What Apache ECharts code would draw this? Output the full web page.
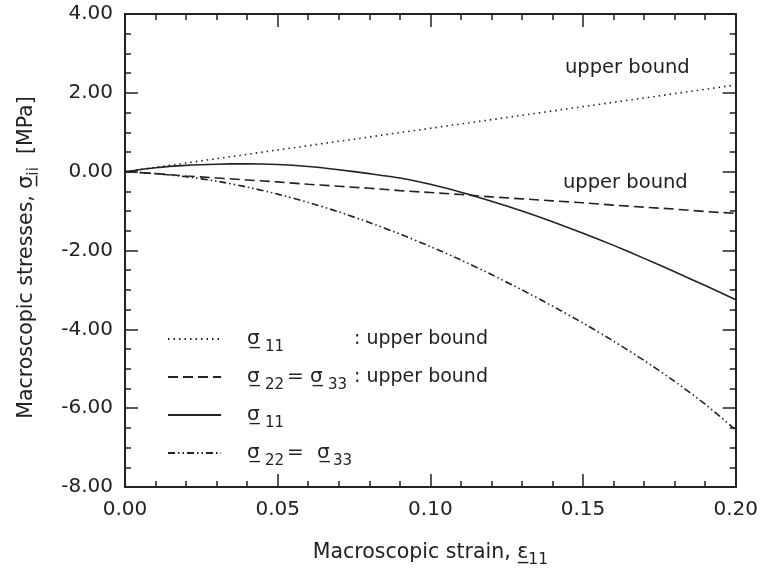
<!DOCTYPE html>
<html>
<head>
<meta charset="utf-8">
<script src="https://cdn.jsdelivr.net/npm/echarts@6/dist/echarts.min.js"></script>
<style>
  html, body { margin: 0; padding: 0; background: #fff; }
  #chart { width: 761px; height: 573px; }
</style>
</head>
<body>
<div id="chart"></div>
<script>
// Macroscopic strain ε11
var strain = [0.00, 0.01, 0.02, 0.03, 0.04, 0.05, 0.06, 0.07, 0.08, 0.09, 0.10,
              0.11, 0.12, 0.13, 0.14, 0.15, 0.16, 0.17, 0.18, 0.19, 0.20];
// σ11 : upper bound [MPa]
var sig11Upper = [0.00, 0.11, 0.22, 0.33, 0.44, 0.55, 0.66, 0.77, 0.88, 0.99, 1.10,
                  1.21, 1.32, 1.43, 1.54, 1.65, 1.76, 1.87, 1.98, 2.09, 2.20];
// σ22 = σ33 : upper bound [MPa]
var sig22Upper = [0.00, -0.05, -0.11, -0.16, -0.21, -0.26, -0.32, -0.37, -0.42, -0.48, -0.53,
                  -0.58, -0.64, -0.69, -0.74, -0.79, -0.85, -0.90, -0.95, -1.01, -1.06];
// σ11 [MPa]
var sig11 = [0.00, 0.10, 0.16, 0.19, 0.20, 0.18, 0.13, 0.05, -0.05, -0.16, -0.32,
             -0.52, -0.75, -1.00, -1.27, -1.56, -1.87, -2.20, -2.54, -2.89, -3.25];
// σ22 = σ33 [MPa]
var sig22 = [0.00, -0.05, -0.13, -0.24, -0.39, -0.57, -0.78, -1.02, -1.29, -1.58, -1.90,
             -2.24, -2.61, -3.00, -3.41, -3.84, -4.30, -4.79, -5.32, -5.90, -6.55];

var seriesNames = ['s11u', 's22u', 's11', 's22'];
var upperBoundText = 'upper bound';

var FONT = 'DejaVu Sans';
var INK = '#222';
var SIG = 'σ\u0332';   // underlined sigma (tensor notation)
var EPS = 'ε\u0332';   // underlined epsilon

function pairs(ys) {
  return strain.map(function (x, i) { return [x, ys[i]]; });
}

var richLegend = {
  g:    { width: 21, fontSize: 20, lineHeight: 32, fontFamily: FONT, color: INK },
  a:    { width: 18, fontSize: 20, lineHeight: 32, fontFamily: FONT, color: INK },
  b:    { width: 16, fontSize: 20, lineHeight: 32, fontFamily: FONT, color: INK },
  s11w: { width: 89, fontSize: 15, lineHeight: 15, verticalAlign: 'bottom', fontFamily: FONT, color: INK },
  s11:  { fontSize: 15, lineHeight: 15, verticalAlign: 'bottom', fontFamily: FONT, color: INK },
  s22:  { width: 22, fontSize: 15, lineHeight: 15, verticalAlign: 'bottom', fontFamily: FONT, color: INK },
  s33:  { width: 26, fontSize: 15, lineHeight: 15, verticalAlign: 'bottom', fontFamily: FONT, color: INK },
  s33b: { fontSize: 15, lineHeight: 15, verticalAlign: 'bottom', fontFamily: FONT, color: INK },
  eq:   { width: 23, fontSize: 20, lineHeight: 32, fontFamily: FONT, color: INK },
  eq4:  { width: 30, fontSize: 20, lineHeight: 32, fontFamily: FONT, color: INK },
  t:    { fontSize: 19, lineHeight: 32, fontFamily: FONT, color: INK }
};

var legendText = {
  s11u: '{g|}{a|' + SIG + '}{s11w|11}{t|: ' + upperBoundText + '}',
  s22u: '{g|}{a|' + SIG + '}{s22|22}{eq|=}{a|' + SIG + '}{s33|33}{t|: ' + upperBoundText + '}',
  s11:  '{g|}{a|' + SIG + '}{s11|11}',
  s22:  '{g|}{a|' + SIG + '}{s22|22}{eq4|=}{b|' + SIG + '}{s33b|33}'
};

var axisLineStyle = { color: INK, width: 2 };

function xAxisDef(pos, showLabels) {
  return {
    type: 'value', position: pos, min: 0, max: 0.2, interval: 0.05,
    axisLine: { show: true, onZero: false, lineStyle: axisLineStyle },
    axisTick: { show: true, inside: true, length: 13, lineStyle: { color: INK, width: 1.5 } },
    minorTick: { show: true, splitNumber: 5, length: 6, lineStyle: { color: INK, width: 1.5 } },
    splitLine: { show: false },
    axisLabel: {
      show: showLabels, margin: 13, color: INK, fontSize: 20, fontFamily: FONT,
      formatter: function (v) { return v.toFixed(2); }
    }
  };
}

function yAxisDef(pos, showLabels) {
  return {
    type: 'value', position: pos, min: -8, max: 4, interval: 2,
    axisLine: { show: true, onZero: false, lineStyle: axisLineStyle },
    axisTick: { show: true, inside: true, length: 13, lineStyle: { color: INK, width: 1.5 } },
    minorTick: { show: true, splitNumber: 4, length: 6, lineStyle: { color: INK, width: 1.5 } },
    splitLine: { show: false },
    axisLabel: {
      show: showLabels, margin: 12, color: INK, fontSize: 20, fontFamily: FONT,
      formatter: function (v) { return v.toFixed(2); }
    }
  };
}

var NAME_SIZE = 20.5;
var nameRich = {
  u:   { fontSize: NAME_SIZE, lineHeight: 30, fontFamily: FONT, color: INK },
  sub: { fontSize: 15.5, lineHeight: 15, verticalAlign: 'bottom', fontFamily: FONT, color: INK },
  tail: { width: 14, fontSize: NAME_SIZE, lineHeight: 30 }
};

var xBottom = xAxisDef('bottom', true);
xBottom.name = 'Macroscopic strain, {u|' + EPS + '}{sub|11}';
xBottom.nameLocation = 'middle';
xBottom.nameGap = 51;
xBottom.nameTextStyle = { color: INK, fontSize: NAME_SIZE, fontFamily: FONT, lineHeight: 30, rich: nameRich };

var yLeft = yAxisDef('left', true);
yLeft.name = 'Macroscopic stresses, {u|' + SIG + '}{sub|ii}  [MPa]{tail|}';
yLeft.nameLocation = 'middle';
yLeft.nameGap = 83;
yLeft.nameTextStyle = { color: INK, fontSize: NAME_SIZE, fontFamily: FONT, lineHeight: 30, rich: nameRich };

function lineSeries(name, ys, type, smooth) {
  return {
    name: name, type: 'line', data: pairs(ys), xAxisIndex: 0, yAxisIndex: 0,
    symbol: 'none', smooth: smooth, silent: true, animation: false,
    itemStyle: { color: 'rgba(0,0,0,0)', borderWidth: 0 },
    lineStyle: { color: INK, width: 1.6, type: type }
  };
}

var chart = echarts.init(document.getElementById('chart'), null, { renderer: 'canvas' });
chart.setOption({
  backgroundColor: '#fff',
  animation: false,
  grid: { left: 125, right: 24, top: 14, bottom: 85, containLabel: false },
  xAxis: [xBottom, xAxisDef('top', false)],
  yAxis: [yLeft, yAxisDef('right', false)],
  legend: {
    orient: 'vertical', left: 167, top: 329, itemGap: 12, padding: 0,
    itemWidth: 53, itemHeight: 14,
    data: seriesNames,
    selectedMode: false,
    itemStyle: { opacity: 0 },
    formatter: function (name) { return legendText[name]; },
    textStyle: { rich: richLegend, color: INK, fontFamily: FONT }
  },
  graphic: [
    { type: 'text', left: 565, top: 58, style: { text: upperBoundText, font: '19.5px "DejaVu Sans"', fill: INK } },
    { type: 'text', left: 563, top: 173, style: { text: upperBoundText, font: '19.5px "DejaVu Sans"', fill: INK } }
  ],
  series: [
    lineSeries('s11u', sig11Upper, [1.5, 4], false),
    lineSeries('s22u', sig22Upper, [10, 5], false),
    lineSeries('s11', sig11, 'solid', 0.2),
    lineSeries('s22', sig22, [7, 3, 1.5, 3, 1.5, 3], 0.2)
  ]
});
</script>
</body>
</html>
